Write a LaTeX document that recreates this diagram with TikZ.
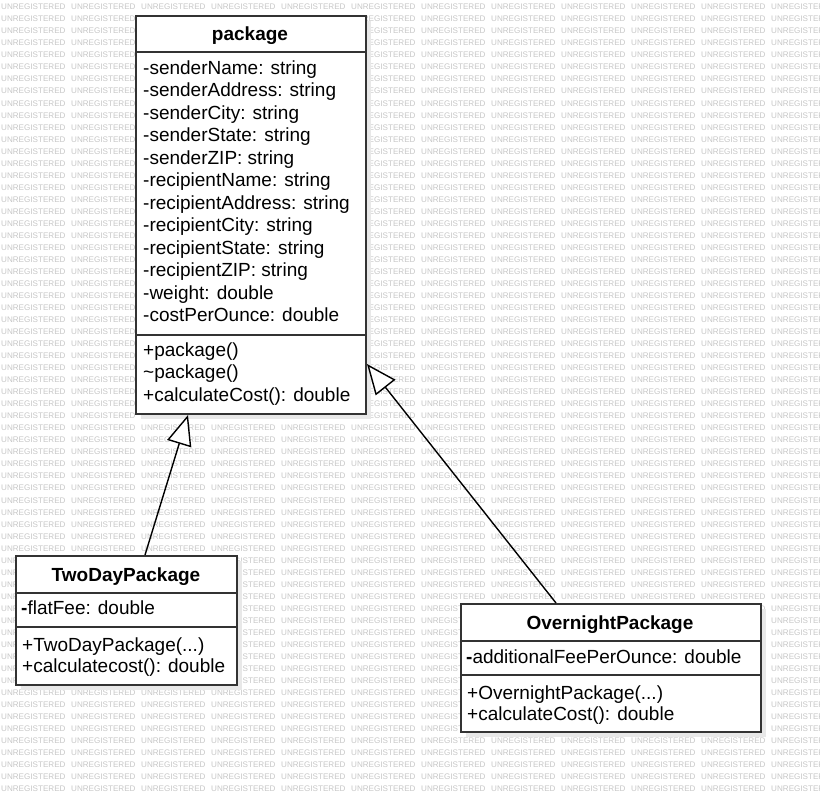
\documentclass[tikz,border=0pt]{standalone}
\usepackage{fontspec}
\setmainfont{Liberation Sans}
\usetikzlibrary{arrows.meta,shadows,calc}
\begin{document}
\begin{tikzpicture}[x=1pt,y=-1pt,
  box/.style={draw=black!80, line width=2pt, fill=white, anchor=north west, inner sep=0pt,
    drop shadow={shadow xshift=5pt, shadow yshift=-5pt, fill=black!9, opacity=1}},
  divider/.style={draw=black!80, line width=2pt},
  attr/.style={anchor=base west, inner sep=0pt, font=\fontsize{19}{21}\selectfont},
  title/.style={anchor=base, inner sep=0pt, font=\fontsize{19}{21}\selectfont\bfseries},
  wm/.style={anchor=west, inner sep=0pt, font=\fontsize{8.1}{9}\selectfont, text=black!22},
  inh/.style={draw=black, line width=1.4pt, -{Triangle[length=30pt, width=25pt, fill=white, line width=1.4pt]}}]
\useasboundingbox (0,0) rectangle (820,792);
\begin{scope}
\clip (0,0) rectangle (820,792);
\fill[white] (0,0) rectangle (820,792);
\foreach \r in {0,...,65} {
  \foreach \c in {0,...,11} {
    \node[wm] (wm-\r-\c) at ({1+70*\c}, {7+12.03*\r}) {UNREGISTERED};
  }
}
\end{scope}
% package
\node[box, minimum width=230pt, minimum height=398pt] (pkg) at (135,15) {};
\draw[divider] (135,52) -- (365,52);
\draw[divider] (135,335) -- (365,335);
\node[title] (pkgT) at (250,41) {package};
\node[attr] (p1) at (143,74.5) {-senderName: string};
\node[attr] (p2) at (143,96.95) {-senderAddress: string};
\node[attr] (p3) at (143,119.4) {-senderCity: string};
\node[attr] (p4) at (143,141.85) {-senderState: string};
\node[attr] (p5) at (143,164.3) {-senderZIP: string};
\node[attr] (p6) at (143,186.75) {-recipientName: string};
\node[attr] (p7) at (143,209.2) {-recipientAddress: string};
\node[attr] (p8) at (143,231.65) {-recipientCity: string};
\node[attr] (p9) at (143,254.1) {-recipientState: string};
\node[attr] (p10) at (143,276.55) {-recipientZIP: string};
\node[attr] (p11) at (143,299) {-weight: double};
\node[attr] (p12) at (143,321.45) {-costPerOunce: double};
\node[attr] (m1) at (143,356) {+package()};
\node[attr] (m2) at (143,378.5) {\char`\~package()};
\node[attr] (m3) at (143,401) {+calculateCost(): double};
% TwoDayPackage
\node[box, minimum width=221pt, minimum height=129pt] (tdp) at (15,555) {};
\draw[divider] (15,593) -- (236,593);
\draw[divider] (15,627) -- (236,627);
\node[title] (tdpT) at (126,581) {TwoDayPackage};
\node[attr] (t1) at (21,614) {\textbf{-}flatFee: double};
\node[attr] (t2) at (22,651) {+TwoDayPackage(...)};
\node[attr] (t3) at (22,672.5) {+calculatecost(): double};
% OvernightPackage
\node[box, minimum width=300pt, minimum height=128pt] (onp) at (460,603) {};
\draw[divider] (460,641) -- (760,641);
\draw[divider] (460,675) -- (760,675);
\node[title] (onpT) at (610,629.5) {OvernightPackage};
\node[attr] (o1) at (466,663) {\textbf{-}additionalFeePerOunce: double};
\node[attr] (o2) at (467,699) {+OvernightPackage(...)};
\node[attr] (o3) at (467,720.5) {+calculateCost(): double};
% inheritance
\draw[inh] ([xshift=130pt]tdp.north west) -- ([xshift=53pt]pkg.south west);
\draw[inh] ([xshift=96pt]onp.north west) -- ([yshift=51pt]pkg.south east);
\end{tikzpicture}
\end{document}
